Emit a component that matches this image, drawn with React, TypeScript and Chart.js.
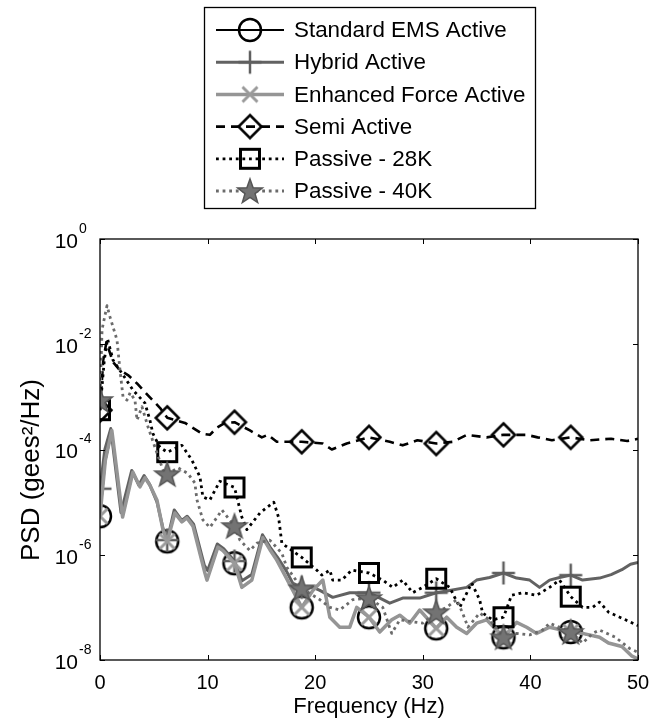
import React, { useEffect, useRef } from 'react';
import { Chart, registerables } from 'chart.js';

Chart.register(...registerables);

// ---------- data ----------
const MARKER_FREQS = [0, 6.25, 12.5, 18.75, 25, 31.25, 37.5, 43.75];
const X_TICKS = [0, 10, 20, 30, 40, 50];
const Y_TICK_EXPONENTS = [0, -2, -4, -6, -8];
const X_TITLE = 'Frequency (Hz)';
const Y_TITLE = 'PSD (gees\u00B2/Hz)';

const standardFreq = [0, 0.5, 1.1, 2.1, 3.06, 3.71, 4.18, 4.64, 5.29, 5.85, 6.25, 6.96, 7.61, 8.08, 8.64, 9.75, 9.94, 10.96, 11.42, 12.5, 13.18, 14.11, 15.13, 15.78, 16.43, 17.2, 17.92, 18.75, 19.78, 20.71, 21.36, 22.28, 23.21, 23.86, 25, 26.0, 27.11, 27.86, 28.78, 29.71, 31.25, 32.22, 33.15, 34.08, 35.0, 35.93, 37.5, 38.72, 39.65, 40.58, 41.78, 43.75, 44.85, 46.43, 47.26, 48.5, 49.4, 50];
const standardPsd = [5.4e-6, 6.0e-5, 2.2e-4, 5.2e-6, 3.7e-5, 1.95e-5, 2.9e-5, 2.1e-5, 1.1e-5, 3.0e-6, 1.8e-6, 6.2e-6, 4.2e-6, 5.0e-6, 3.5e-6, 4.5e-7, 3.3e-7, 1.4e-6, 1.2e-6, 6.9e-7, 2.4e-7, 3.3e-7, 2.1e-6, 1.26e-6, 7.9e-7, 4.0e-7, 2.1e-7, 1.0e-7, 2.1e-7, 3.3e-7, 6.5e-8, 4.2e-8, 4.2e-8, 1.0e-7, 6.5e-8, 3.4e-8, 5.8e-8, 7.1e-8, 5.0e-8, 8.9e-8, 4.0e-8, 6.5e-8, 4.2e-8, 3.2e-8, 5.0e-8, 5.8e-8, 2.7e-8, 5.2e-8, 4.2e-8, 3.2e-8, 4.2e-8, 3.4e-8, 3.2e-8, 2.7e-8, 2.1e-8, 1.8e-8, 1.2e-8, 1.05e-8];

const hybridFreq = [0, 0.45, 1.0, 1.95, 2.95, 3.6, 4.1, 4.6, 5.3, 5.85, 6.25, 6.9, 7.6, 8.1, 8.7, 9.7, 10.0, 10.9, 11.5, 12.5, 13.2, 14.1, 15.1, 15.8, 16.5, 17.3, 17.9, 18.75, 19.8, 20.43, 21.63, 23.21, 25, 26.93, 28.13, 29.71, 31.25, 32.5, 34.08, 35.0, 36.21, 37.5, 38.72, 39.93, 40.85, 41.78, 42.71, 43.75, 44.85, 46.43, 47.5, 48.5, 49.3, 50];
const hybridPsd = [1.8e-5, 1.0e-4, 2.5e-4, 6.3e-6, 4.0e-5, 2.1e-5, 3.2e-5, 2.2e-5, 1.0e-5, 3.2e-6, 1.9e-6, 7.1e-6, 4.5e-6, 5.4e-6, 3.8e-6, 6.3e-7, 5.0e-7, 1.6e-6, 1.3e-6, 7.6e-7, 3.2e-7, 4.2e-7, 2.4e-6, 1.4e-6, 8.9e-7, 5.0e-7, 2.9e-7, 2.4e-7, 2.4e-7, 2.1e-7, 1.55e-7, 1.9e-7, 1.9e-7, 1.2e-7, 1.5e-7, 1.5e-7, 1.9e-7, 2.1e-7, 2.4e-7, 3.3e-7, 3.7e-7, 4.5e-7, 3.6e-7, 3.3e-7, 2.4e-7, 3.3e-7, 3.7e-7, 4.1e-7, 3.3e-7, 3.6e-7, 4.2e-7, 5.2e-7, 6.6e-7, 7.1e-7];

const enhancedFreq = [0, 0.5, 1.1, 2.1, 3.06, 3.71, 4.18, 4.64, 5.29, 5.85, 6.25, 6.96, 7.61, 8.08, 8.64, 9.75, 9.94, 10.96, 11.42, 12.5, 13.18, 14.11, 15.13, 15.78, 16.43, 17.2, 17.92, 18.75, 19.78, 20.71, 21.36, 22.28, 23.21, 23.86, 25, 26.0, 27.11, 27.86, 28.78, 29.71, 31.25, 32.22, 33.15, 34.08, 35.0, 35.93, 37.5, 38.72, 39.65, 40.58, 41.78, 43.75, 44.85, 46.43, 47.26, 48.5, 49.4, 50];
const enhancedPsd = [5.4e-6, 6.3e-5, 2.3e-4, 5.2e-6, 3.7e-5, 1.95e-5, 2.9e-5, 2.1e-5, 1.1e-5, 3.0e-6, 1.8e-6, 6.2e-6, 4.2e-6, 5.0e-6, 3.5e-6, 4.5e-7, 3.3e-7, 1.4e-6, 1.2e-6, 6.9e-7, 2.4e-7, 3.3e-7, 2.1e-6, 1.26e-6, 7.9e-7, 4.0e-7, 2.1e-7, 1.0e-7, 2.1e-7, 3.3e-7, 6.5e-8, 4.2e-8, 4.2e-8, 1.0e-7, 6.5e-8, 3.4e-8, 5.8e-8, 7.1e-8, 5.0e-8, 8.9e-8, 4.0e-8, 6.5e-8, 4.2e-8, 3.2e-8, 5.0e-8, 5.8e-8, 2.7e-8, 5.2e-8, 4.2e-8, 3.2e-8, 4.2e-8, 3.4e-8, 3.2e-8, 2.7e-8, 2.1e-8, 1.8e-8, 1.2e-8, 1.05e-8];

const semiFreq = [0, 0.3, 0.6, 1.2, 1.86, 2.6, 3.44, 4.46, 5.57, 6.25, 7.9, 9.47, 10.21, 10.86, 11.61, 12.5, 13.93, 15.04, 15.6, 16.43, 17.46, 18.75, 20.71, 21.54, 22.93, 25, 26.93, 28.13, 29.5, 31.25, 32.78, 34.08, 35.93, 37.5, 39.65, 40.67, 42.0, 43.75, 45.5, 47.5, 49.0, 50];
const semiPsd = [5.6e-4, 5.0e-3, 1.1e-2, 4.6e-3, 3.2e-3, 2.6e-3, 1.8e-3, 1.07e-3, 6.2e-4, 4.0e-4, 3.2e-4, 2.0e-4, 1.9e-4, 2.6e-4, 3.2e-4, 3.3e-4, 2.3e-4, 1.7e-4, 1.9e-4, 1.4e-4, 1.4e-4, 1.4e-4, 1.3e-4, 1.0e-4, 1.3e-4, 1.7e-4, 1.4e-4, 1.2e-4, 1.5e-4, 1.3e-4, 1.4e-4, 1.9e-4, 1.7e-4, 1.9e-4, 1.9e-4, 1.7e-4, 1.5e-4, 1.7e-4, 1.5e-4, 1.6e-4, 1.45e-4, 1.6e-4];

const passive28Freq = [0, 0.4, 0.7, 1.21, 2.32, 3.06, 4.18, 4.64, 4.92, 5.57, 6.25, 7.61, 8.54, 9.29, 9.56, 10.21, 11.14, 12.5, 13.18, 13.65, 14.86, 16.15, 16.6, 16.9, 17.5, 18.11, 18.75, 20.15, 20.61, 21.36, 21.63, 22.47, 23.4, 25, 26.28, 27.21, 28.13, 29.06, 29.99, 31.25, 32.5, 33.43, 34.54, 35.28, 35.56, 36.49, 37.5, 38.25, 39.28, 40.58, 41.78, 42.71, 43.75, 44.85, 45.78, 46.43, 47.26, 48.84, 50];
const passive28Psd = [5.6e-4, 5.0e-3, 1.26e-2, 5.0e-3, 2.3e-3, 1.35e-3, 7.6e-4, 3.6e-4, 2.0e-4, 1.1e-4, 8.9e-5, 1.2e-4, 6.3e-5, 3.0e-5, 1.26e-5, 1.1e-5, 2.5e-5, 1.9e-5, 5.2e-6, 3.0e-6, 6.2e-6, 1.0e-5, 5.1e-6, 1.66e-6, 1.35e-6, 1.1e-6, 8.9e-7, 5.1e-7, 4.1e-7, 5.1e-7, 3.3e-7, 3.3e-7, 5.1e-7, 4.5e-7, 3.3e-7, 2.4e-7, 3.3e-7, 1.9e-7, 2.4e-7, 3.5e-7, 2.4e-7, 1.0e-7, 2.9e-7, 1.4e-7, 7.8e-8, 5.8e-8, 6.5e-8, 1.7e-7, 1.9e-7, 1.7e-7, 2.4e-7, 3.3e-7, 1.6e-7, 1.0e-7, 1.0e-7, 1.26e-7, 8.1e-8, 5.8e-8, 4.5e-8];

const passive40Freq = [0, 0.19, 0.65, 0.93, 1.58, 1.86, 2.14, 2.51, 2.8, 3.25, 3.44, 3.9, 4.46, 5.11, 5.85, 6.25, 7.24, 8.17, 8.82, 9.01, 9.56, 10.21, 10.86, 11.33, 12.5, 13.0, 13.93, 14.58, 15.78, 16.9, 17.36, 18.75, 19.78, 20.43, 21.36, 22.28, 23.49, 25, 26.28, 27.11, 27.86, 29.99, 31.25, 32.22, 33.15, 33.7, 34.2, 35.28, 36.21, 37.5, 38.72, 39.93, 41.13, 41.78, 43.75, 44.85, 45.78, 46.43, 47.91, 49.21, 50];
const passive40Psd = [8.7e-4, 1.9e-2, 5.4e-2, 3.3e-2, 1.2e-2, 3.2e-3, 1.0e-3, 8.7e-4, 1.2e-3, 8.7e-4, 3.6e-4, 6.5e-4, 2.7e-4, 1.1e-4, 4.1e-5, 3.4e-5, 4.5e-5, 3.5e-5, 2.3e-5, 1.1e-5, 4.6e-6, 3.3e-6, 5.1e-6, 7.1e-6, 3.5e-6, 1.9e-6, 1.2e-6, 1.66e-6, 1.9e-6, 1.07e-6, 5.8e-7, 2.3e-7, 1.7e-7, 1.4e-7, 1.0e-7, 8.9e-8, 1.4e-7, 1.5e-7, 1.0e-7, 3.2e-8, 5.8e-8, 5.0e-8, 8.1e-8, 1.0e-7, 1.4e-7, 7.8e-8, 4.2e-8, 7.8e-8, 5.8e-8, 2.7e-8, 3.2e-8, 3.0e-8, 3.7e-8, 5.0e-8, 3.4e-8, 2.1e-8, 3.2e-8, 3.7e-8, 2.7e-8, 1.66e-8, 1.4e-8];

// ---------- styles ----------
type SeriesDef = {
  label: string; freq: number[]; psd: number[]; color: string; width: number;
  dash: number[]; marker: string; order: number;
};

const SERIES: SeriesDef[] = [
  { label: 'Standard EMS Active', freq: standardFreq, psd: standardPsd, color: '#000000', width: 2, dash: [], marker: 'circle', order: 6 },
  { label: 'Hybrid Active', freq: hybridFreq, psd: hybridPsd, color: '#626262', width: 3, dash: [], marker: 'plus', order: 5 },
  { label: 'Enhanced Force Active', freq: enhancedFreq, psd: enhancedPsd, color: '#959595', width: 3.5, dash: [], marker: 'x', order: 4 },
  { label: 'Semi Active', freq: semiFreq, psd: semiPsd, color: '#000000', width: 2.6, dash: [9, 6], marker: 'diamond', order: 3 },
  { label: 'Passive - 28K', freq: passive28Freq, psd: passive28Psd, color: '#000000', width: 2.8, dash: [2.8, 3.8], marker: 'square', order: 2 },
  { label: 'Passive - 40K', freq: passive40Freq, psd: passive40Psd, color: '#6b6b6b', width: 2.8, dash: [2.8, 3.8], marker: 'star', order: 1 },
];

const FONT = '"Liberation Sans", Arial, Helvetica, sans-serif';

function makeMarker(kind: string): HTMLCanvasElement {
  const s = 32;
  const c = document.createElement('canvas');
  c.width = s; c.height = s;
  const g = c.getContext('2d') as CanvasRenderingContext2D;
  const m = s / 2;
  g.lineJoin = 'miter';
  g.beginPath();
  if (kind === 'circle') {
    g.strokeStyle = '#000'; g.lineWidth = 2.5;
    g.arc(m, m, 11, 0, Math.PI * 2);
    g.stroke();
  } else if (kind === 'plus') {
    g.strokeStyle = '#5f5f5f'; g.lineWidth = 2.5;
    g.moveTo(m - 11.5, m); g.lineTo(m + 11.5, m);
    g.moveTo(m, m - 11.5); g.lineTo(m, m + 11.5);
    g.stroke();
  } else if (kind === 'x') {
    g.strokeStyle = '#9a9a9a'; g.lineWidth = 3;
    g.moveTo(m - 7.5, m - 7.5); g.lineTo(m + 7.5, m + 7.5);
    g.moveTo(m + 7.5, m - 7.5); g.lineTo(m - 7.5, m + 7.5);
    g.stroke();
  } else if (kind === 'diamond') {
    g.strokeStyle = '#000'; g.lineWidth = 2.5;
    g.moveTo(m, m - 11.5); g.lineTo(m + 11.5, m); g.lineTo(m, m + 11.5); g.lineTo(m - 11.5, m);
    g.closePath(); g.stroke();
  } else if (kind === 'square') {
    g.strokeStyle = '#000'; g.lineWidth = 3;
    g.rect(m - 9.5, m - 9.5, 19, 19);
    g.stroke();
  } else if (kind === 'star') {
    const R = 13, r = 5.3;
    for (let i = 0; i < 10; i++) {
      const ang = -Math.PI / 2 + (i * Math.PI) / 5;
      const rr = i % 2 === 0 ? R : r;
      const px = m + rr * Math.cos(ang), py = m + 1 + rr * Math.sin(ang);
      if (i === 0) g.moveTo(px, py); else g.lineTo(px, py);
    }
    g.closePath();
    g.fillStyle = '#737373'; g.fill();
    g.strokeStyle = '#555555'; g.lineWidth = 1.5; g.stroke();
  }
  return c;
}

export default function App() {
  const ref = useRef<HTMLCanvasElement | null>(null);

  useEffect(() => {
    const canvas = ref.current;
    if (!canvas) return;
    const markers: Record<string, HTMLCanvasElement> = {};
    SERIES.forEach((s) => { markers[s.marker] = makeMarker(s.marker); });

    const datasets = SERIES.map((s) => ({
      label: s.label,
      data: s.freq.map((f, i) => ({ x: f, y: s.psd[i] })),
      borderColor: s.color,
      backgroundColor: s.color,
      borderWidth: s.width,
      borderDash: s.dash,
      borderCapStyle: 'butt' as const,
      borderJoinStyle: 'round' as const,
      tension: 0,
      fill: false,
      order: s.order,
      pointStyle: markers[s.marker],
      pointRadius: (c: any) => (c.raw && MARKER_FREQS.includes(c.raw.x) ? 10 : 0),
      pointHoverRadius: (c: any) => (c.raw && MARKER_FREQS.includes(c.raw.x) ? 10 : 0),
    }));

    const decor = {
      id: 'decor',
      afterDraw(chart: any) {
        const { ctx, chartArea: a, scales } = chart;
        const xs = scales.x, ys = scales.y;
        ctx.save();
        // axes box
        ctx.strokeStyle = '#000';
        ctx.lineWidth = 1.3;
        ctx.setLineDash([]);
        ctx.strokeRect(a.left, a.top, a.right - a.left, a.bottom - a.top);
        // ticks (inward)
        ctx.lineWidth = 1;
        X_TICKS.forEach((v) => {
          const px = Math.round(xs.getPixelForValue(v)) + 0.5;
          ctx.beginPath();
          ctx.moveTo(px, a.bottom); ctx.lineTo(px, a.bottom - 5);
          ctx.moveTo(px, a.top); ctx.lineTo(px, a.top + 5);
          ctx.stroke();
        });
        Y_TICK_EXPONENTS.forEach((e) => {
          const py = Math.round(ys.getPixelForValue(Math.pow(10, e))) + 0.5;
          ctx.beginPath();
          ctx.moveTo(a.left, py); ctx.lineTo(a.left + 5, py);
          ctx.moveTo(a.right, py); ctx.lineTo(a.right - 5, py);
          ctx.stroke();
        });
        // x tick labels
        ctx.fillStyle = '#000';
        ctx.font = `20px ${FONT}`;
        ctx.textAlign = 'center';
        ctx.textBaseline = 'middle';
        X_TICKS.forEach((v) => {
          ctx.fillText(String(v), xs.getPixelForValue(v), a.bottom + 23);
        });
        // y tick labels 10^e
        Y_TICK_EXPONENTS.forEach((e) => {
          const py = ys.getPixelForValue(Math.pow(10, e));
          ctx.font = `21px ${FONT}`;
          ctx.textAlign = 'right';
          ctx.textBaseline = 'middle';
          ctx.fillText('10', 78, py + 3);
          ctx.font = `14px ${FONT}`;
          ctx.textAlign = 'left';
          ctx.fillText(String(e), 79, py - 10);
        });
        // axis titles
        ctx.font = `22px ${FONT}`;
        ctx.textAlign = 'center';
        ctx.textBaseline = 'middle';
        ctx.fillText(X_TITLE, (a.left + a.right) / 2, a.bottom + 47);
        ctx.save();
        ctx.font = `26px ${FONT}`;
        ctx.translate(32, 470);
        ctx.rotate(-Math.PI / 2);
        ctx.fillText(Y_TITLE, 0, 0);
        ctx.restore();
        // legend
        const lx = 204, ly = 7, lw = 331, lh = 201;
        ctx.fillStyle = '#fff';
        ctx.fillRect(lx, ly, lw, lh);
        ctx.strokeStyle = '#000';
        ctx.lineWidth = 1.3;
        ctx.strokeRect(lx + 0.5, ly + 0.5, lw, lh);
        SERIES.forEach((s, i) => {
          const cy = ly + 23 + i * 32.2;
          ctx.strokeStyle = s.color;
          ctx.lineWidth = s.width;
          ctx.lineCap = 'butt';
          ctx.setLineDash(s.dash);
          ctx.beginPath();
          ctx.moveTo(216, cy); ctx.lineTo(284, cy);
          ctx.stroke();
          ctx.setLineDash([]);
          const mk = markers[s.marker];
          ctx.drawImage(mk, 250 - mk.width / 2, cy - mk.height / 2);
          ctx.fillStyle = '#000';
          ctx.font = `22.4px ${FONT}`;
          ctx.textAlign = 'left';
          ctx.textBaseline = 'middle';
          ctx.fillText(s.label, 294, cy + 1);
        });
        ctx.restore();
      },
    };

    const chart = new Chart(canvas, {
      type: 'line',
      data: { datasets: datasets as any },
      options: {
        animation: false,
        responsive: false,
        devicePixelRatio: 1,
        events: [],
        layout: { padding: { left: 100, right: 27, top: 239, bottom: 63 } },
        plugins: { legend: { display: false }, tooltip: { enabled: false } },
        scales: {
          x: { type: 'linear', min: 0, max: 50, display: false },
          y: { type: 'logarithmic', min: 1e-8, max: 1, display: false },
        },
      },
      plugins: [decor],
    });
    return () => chart.destroy();
  }, []);

  return (
    <div style={{ position: 'absolute', left: 0, top: 0, width: 665, height: 723, background: '#fff' }}>
      <canvas ref={ref} width={665} height={723} style={{ width: 665, height: 723, display: 'block' }} />
    </div>
  );
}
